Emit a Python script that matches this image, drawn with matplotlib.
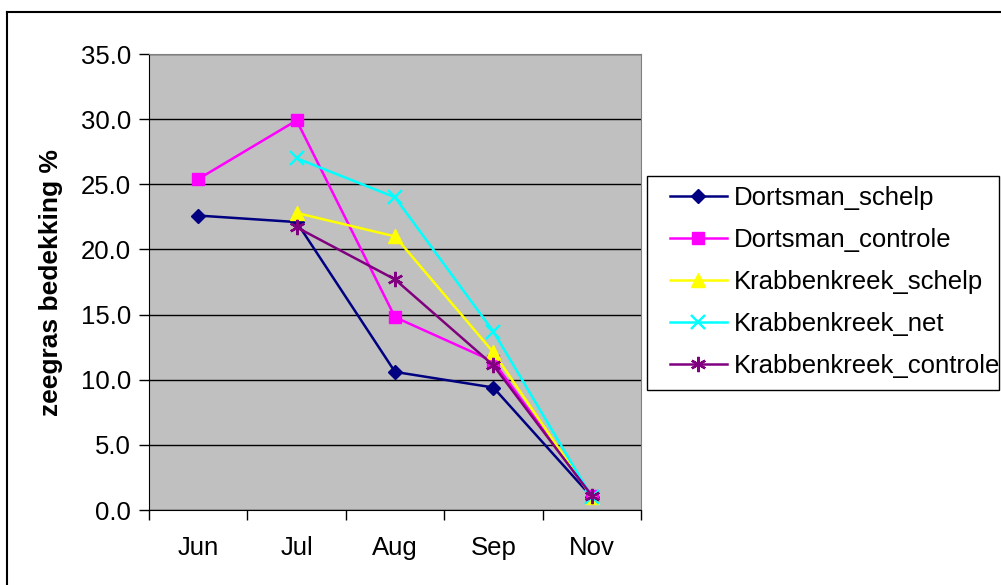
import matplotlib
matplotlib.use("Agg")
import matplotlib.pyplot as plt
from matplotlib.lines import Line2D
from matplotlib.patches import Rectangle

months = ["Jun", "Jul", "Aug", "Sep", "Nov"]
dortsman_schelp = [22.6, 22.1, 10.6, 9.4, 1.0]
dortsman_controle = [25.4, 29.9, 14.8, 11.4, 1.1]
krabbenkreek_schelp = [None, 22.8, 21.0, 12.1, 1.0]
krabbenkreek_net = [None, 27.0, 24.0, 13.7, 1.0]
krabbenkreek_controle = [None, 21.7, 17.7, 11.1, 1.1]
y_ticks = [0, 5, 10, 15, 20, 25, 30, 35]

series = [
    ("Dortsman_schelp", dortsman_schelp, "#000080", "D", 7.5),
    ("Dortsman_controle", dortsman_controle, "#FF00FF", "s", 8),
    ("Krabbenkreek_schelp", krabbenkreek_schelp, "#FFFF00", "^", 10),
    ("Krabbenkreek_net", krabbenkreek_net, "#00FFFF", "x", 10),
    ("Krabbenkreek_controle", krabbenkreek_controle, "#800080", (6, 2, 0), 11),
]

plt.rcParams['font.family'] = ['Liberation Sans', 'DejaVu Sans']
FS = 18.5

fig = plt.figure(figsize=(10.01, 5.85), dpi=100)
ax = fig.add_axes([149/1001, 75/585, (641-149)/1001, (510-54)/585])
ax.set_facecolor("#C0C0C0")

for name, vals, col, mk, ms in series:
    xs = [i for i, v in enumerate(vals) if v is not None]
    ys = [v for v in vals if v is not None]
    ax.plot(xs, ys, color=col, marker=mk, markersize=ms, linewidth=1.8,
            markeredgewidth=1.7 if mk in ("x", (6, 2, 0)) else 1,
            markeredgecolor=col, markerfacecolor=col, label=name, zorder=3)

ax.set_xlim(-0.5, len(months) - 0.5)
ax.set_ylim(0, 35)
ax.set_yticks(y_ticks)
ax.set_yticklabels([f"{t:.1f}" for t in y_ticks], fontsize=FS)
ax.set_xticks(range(len(months)))
ax.set_xticklabels(months, fontsize=FS)
ax.tick_params(axis="x", which="major", length=0, pad=19)
ax.set_xticks([i - 0.5 for i in range(len(months) + 1)], minor=True)
ax.tick_params(axis="x", which="minor", length=7, width=1, direction="out", color="black")
ax.tick_params(axis="y", length=7, width=1, direction="out", pad=6)
ax.yaxis.grid(True, color="black", linewidth=1)
ax.set_axisbelow(True)
for s in ("top", "right"):
    ax.spines[s].set_color("#808080")
for s in ("left", "bottom"):
    ax.spines[s].set_color("black")
ax.set_ylabel("zeegras bedekking %", fontsize=19, fontweight="bold", labelpad=13)

# legend frame
fig.add_artist(Rectangle((647/1001, 1 - 390/585), (999-647)/1001, (390-176)/585,
                         transform=fig.transFigure, facecolor="white",
                         edgecolor="black", linewidth=1, zorder=1))
leg = fig.legend(loc="upper left", bbox_to_anchor=(670/1001, 1 - 186/585),
                 fontsize=FS, frameon=False, borderpad=0, labelspacing=0.7,
                 handlelength=2.2, handletextpad=0.3, borderaxespad=0)
leg.set_zorder(2)

# outer chart border
fig.add_artist(Line2D([7/1001, 7/1001], [0, 1 - 12/585], color="black", lw=1.5, transform=fig.transFigure))
fig.add_artist(Line2D([7/1001, 1], [1 - 12/585, 1 - 12/585], color="black", lw=1.5, transform=fig.transFigure))

fig.savefig("out.png", dpi=100)
